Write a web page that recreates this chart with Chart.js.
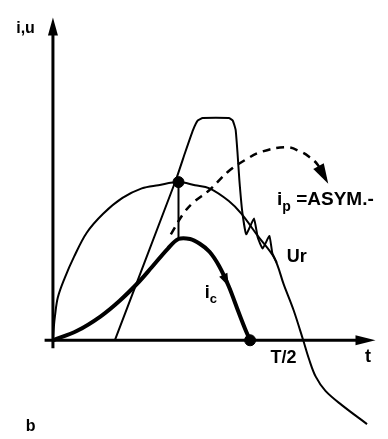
<!DOCTYPE html>
<html>
<head>
<meta charset="utf-8">
<script src="https://cdn.jsdelivr.net/npm/chart.js@4/dist/chart.umd.min.js"></script>
<style>
  html, body { margin: 0; padding: 0; background: #fff; }
  #wave { display: block; }
</style>
</head>
<body>
<canvas id="wave" width="388" height="439"></canvas>
<script>
// electrical angle in degrees (T/2 = 180), amplitude in p.u. of the source peak

// source voltage (thin half-wave, continues past T/2)
const sineAngle = [0, 0.7, 1.4, 3.5, 8.3, 15.3, 24.3, 36.1, 50.0, 63.9, 75.8, 90.3, 102.2, 112.6, 126.5, 135.5, 147.3, 159.2, 166.1, 173.1, 180.0, 184.2, 189.0, 196.0, 207.8, 225.9];
const sineValue = [0, 0.09, 0.15, 0.27, 0.39, 0.53, 0.68, 0.80, 0.90, 0.96, 0.98, 1.00, 0.98, 0.96, 0.88, 0.80, 0.66, 0.52, 0.35, 0.19, 0, -0.12, -0.23, -0.32, -0.41, -0.53];

// arc voltage Ur (trapezoid, then ringing)
const urAngle = [44.5, 88.3, 95.2, 100.8, 104.2, 107.7, 126.5, 129.3, 131.4, 132.7, 134.1, 136.2, 139.0, 144.6, 147.3, 150.8, 155.7, 157.8, 161.0];
const urValue = [0, 1.01, 1.19, 1.33, 1.39, 1.405, 1.405, 1.39, 1.33, 1.19, 1.01, 0.81, 0.67, 0.77, 0.65, 0.58, 0.66, 0.55, 0.49];

// limited current i_c
const icAngle = [0, 17.4, 34.1, 48.0, 61.9, 70.9, 82.7, 90.3, 98.6, 105.6, 112.6, 119.5, 126.5, 133.4, 138.3, 141.8];
const icValue = [0, 0.06, 0.15, 0.25, 0.37, 0.46, 0.58, 0.64, 0.64, 0.61, 0.56, 0.47, 0.34, 0.18, 0.07, 0];

// prospective asymmetric current i_p (dashed)
const asymAngle = [84.8, 93.8, 100.8, 112.6, 126.5, 138.3, 149.5, 168.2, 178.6, 184.2, 190.4, 198.0];
const asymValue = [0.67, 0.80, 0.87, 0.95, 1.07, 1.14, 1.19, 1.22, 1.19, 1.16, 1.11, 0.99];

// axis extents
const axisT = [-6, 232];
const axisY = [-0.05, 2.04];

const pts = (xs, ys) => xs.map((x, i) => ({x: x, y: ys[i]}));

const sinePts = pts(sineAngle, sineValue);
const icPts = pts(icAngle, icValue);
const asymPts = pts(asymAngle, asymValue);
const peak = sineValue.indexOf(Math.max(...sineValue));
const icPeak = icAngle.indexOf(sineAngle[peak]);

const FONT = '"Liberation Sans", Arial, sans-serif';

// text pieces: [string, subscript?]
const notes = [
  {x: -26.4, y: 1.945, size: 16, parts: [['i,u', false]]},
  {x: 161.2, y: 0.853, size: 19, parts: [['i', false], ['p', true], [' =ASYM.-', false]]},
  {x: 168.2, y: 0.497, size: 18, parts: [['Ur', false]]},
  {x: 109.1, y: 0.27, size: 18, parts: [['i', false], ['c', true]]},
  {x: 156.4, y: -0.141, size: 18, parts: [['T/2', false]]},
  {x: 224.5, y: -0.135, size: 18, parts: [['t', false]]},
  {x: -19.5, y: -0.571, size: 16, parts: [['b', false]]}
];

function head(ctx, tip, from, len, half) {
  const dx = tip.x - from.x, dy = tip.y - from.y;
  const d = Math.hypot(dx, dy) || 1;
  const ux = dx / d, uy = dy / d;
  const bx = tip.x - ux * len, by = tip.y - uy * len;
  ctx.beginPath();
  ctx.moveTo(tip.x, tip.y);
  ctx.lineTo(bx - uy * half, by + ux * half);
  ctx.lineTo(bx + uy * half, by - ux * half);
  ctx.closePath();
  ctx.fill();
}

const decorations = {
  id: 'decorations',
  afterDatasetsDraw(chart) {
    const ctx = chart.ctx;
    const sx = chart.scales.x, sy = chart.scales.y;
    const px = p => ({x: sx.getPixelForValue(p.x), y: sy.getPixelForValue(p.y)});
    ctx.save();
    ctx.fillStyle = '#000';

    // arrowheads
    head(ctx, px({x: 0, y: axisY[1]}), px({x: 0, y: axisY[0]}), 18, 5);
    head(ctx, px({x: axisT[1], y: 0}), px({x: axisT[0], y: 0}), 20, 5);
    head(ctx, px(asymPts[asymPts.length - 1]), px(asymPts[asymPts.length - 2]), 20, 6);
    head(ctx, px(icPts[12]), px(icPts[11]), 13, 4.5);

    // labels
    ctx.textBaseline = 'alphabetic';
    notes.forEach(n => {
      let p = px(n);
      let x = p.x;
      n.parts.forEach(([s, sub]) => {
        const size = sub ? Math.round(n.size * 0.72) : n.size;
        ctx.font = 'bold ' + size + 'px ' + FONT;
        ctx.fillText(s, x, sub ? p.y + n.size * 0.3 : p.y);
        x += ctx.measureText(s).width;
      });
    });
    ctx.restore();
  }
};

const line = (data, width, extra) => Object.assign({
  data: data,
  showLine: true,
  borderColor: '#000',
  backgroundColor: '#000',
  borderWidth: width,
  pointRadius: 0,
  tension: 0
}, extra || {});

new Chart(document.getElementById('wave'), {
  type: 'scatter',
  data: {
    datasets: [
      line([{x: axisT[0], y: 0}, {x: axisT[1] - 6, y: 0}], 3),
      line([{x: 0, y: axisY[0]}, {x: 0, y: axisY[1] - 0.05}], 3),
      line(sinePts, 2, {tension: 0.35}),
      line(pts(urAngle, urValue), 2, {tension: 0.12}),
      line([sinePts[peak], icPts[icPeak]], 2),
      line(icPts, 4, {tension: 0.35}),
      line(asymPts, 2.5, {tension: 0.4, borderDash: [8, 6]}),
      {
        data: [sinePts[peak], icPts[icPts.length - 1]],
        backgroundColor: '#000',
        borderColor: '#000',
        pointRadius: 5.5
      }
    ]
  },
  options: {
    responsive: false,
    animation: false,
    layout: {padding: 0},
    plugins: {legend: {display: false}, tooltip: {enabled: false}},
    scales: {
      x: {type: 'linear', display: false, min: -33.4, max: 236.3},
      y: {type: 'linear', display: false, min: -0.583, max: 2.110}
    }
  },
  plugins: [decorations]
});
</script>
</body>
</html>
